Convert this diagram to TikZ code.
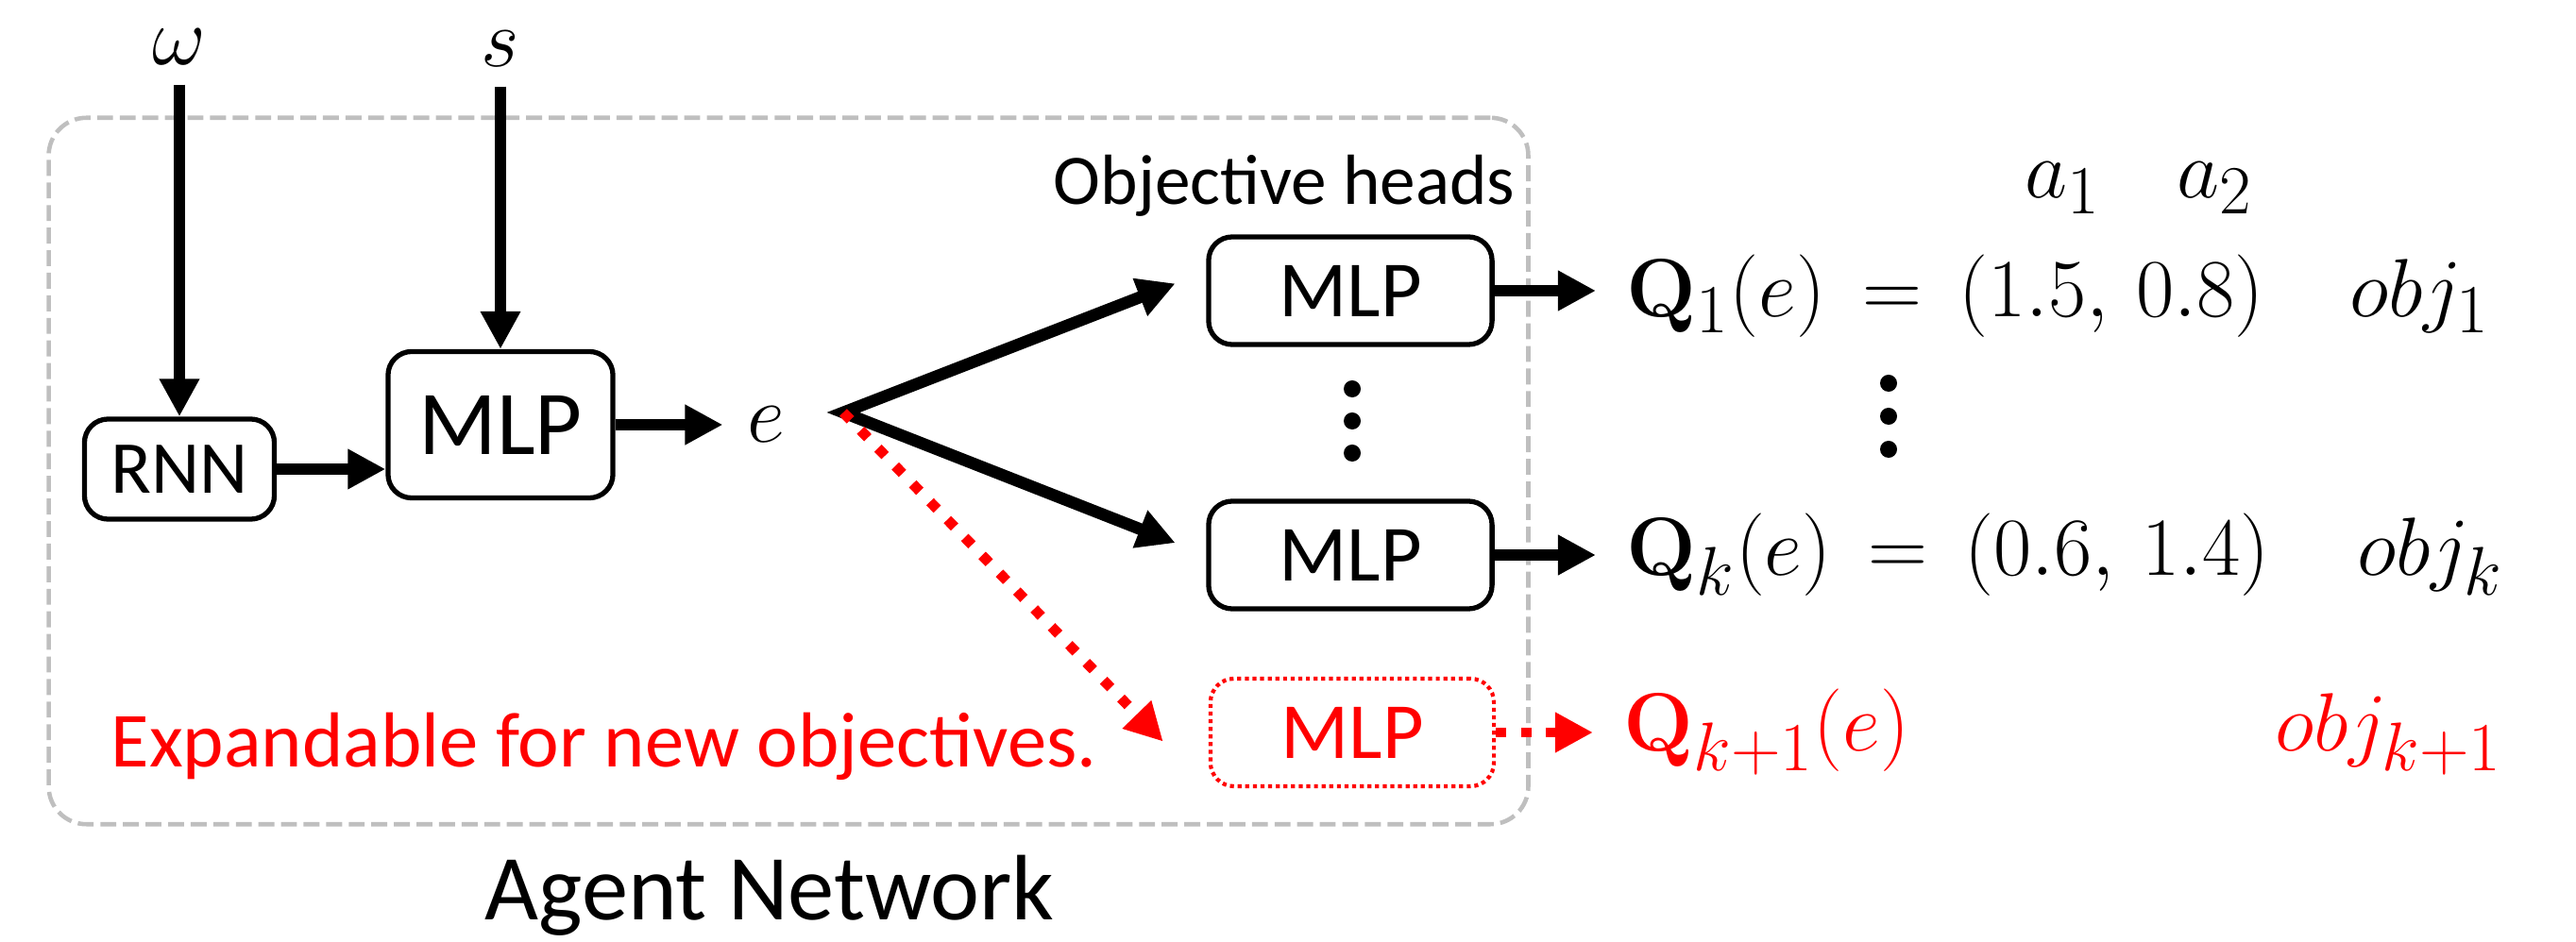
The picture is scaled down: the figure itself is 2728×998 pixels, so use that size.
\documentclass[tikz,border=0pt]{standalone}
\usepackage{amsmath}
\usepackage[no-math]{fontspec}
\setmainfont{Carlito}
\usetikzlibrary{arrows.meta, positioning, calc}

\definecolor{framegray}{RGB}{191,191,191}
\definecolor{newred}{RGB}{255,0,0}

\begin{document}
\begin{tikzpicture}[
        x=0.01cm, y=-0.01cm,
        >={Triangle[length=4mm, width=4mm]},
        every node/.style={inner sep=0pt},
        netbox/.style={draw, rounded corners=0.25cm, line width=1.5pt, align=center},
        rnnbox/.style={netbox, minimum width=2.01cm, minimum height=1.06cm, font=\fontsize{22.5}{24}\selectfont},
        bigbox/.style={netbox, minimum width=2.38cm, minimum height=1.55cm, font=\fontsize{27.5}{30}\selectfont},
        headbox/.style={netbox, minimum width=3cm, minimum height=1.14cm, font=\fontsize{24}{26}\selectfont},
        newbox/.style={headbox, draw=newred, text=newred, line width=1.2pt, dash pattern=on 1.2pt off 1.1pt},
        groupbox/.style={draw=framegray, line width=1.3pt, dash pattern=on 4.8pt off 2pt, rounded corners=0.4cm},
        mathlbl/.style={font=\fontsize{30}{32}\selectfont, inner sep=0.2cm},
        qlbl/.style={font=\fontsize{29}{31}\selectfont, anchor=base west},
        arr/.style={->, line width=3.6pt},
        newarr/.style={->, newred, line width=3.1pt, dash pattern=on 3.1pt off 4.4pt},
    ]
    \useasboundingbox (0,0) rectangle (2728,998);

    %% ===== Agent network frame =====
    \node[groupbox, minimum width=15.66cm, minimum height=7.48cm] (agentnet) at (835,499) {};
    \node[anchor=base, font=\fontsize{28}{30}\selectfont] (agentlbl) at (815,974) {Agent Network};

    %% ===== Inputs and encoder =====
    \node[mathlbl] (omega) at (190,50) {$\omega$};
    \node[mathlbl] (s) at (530,52) {$s$};
    \node[rnnbox] (rnn) at (190,497) {RNN};
    \node[bigbox] (mlp) at (530,450) {MLP};
    \node[mathlbl, inner sep=0.25cm] (e) at (811,450) {$e$};
    \coordinate (fork) at (893,437);

    \draw[arr] (omega) -- (rnn);
    \draw[arr] (s) -- (mlp);
    \draw[arr] (rnn.east) -- (rnn.east -| mlp.west);
    \draw[arr] (mlp) -- (e);

    %% ===== Objective heads =====
    \node[font=\fontsize{21.4}{23}\selectfont] (objheads) at (1360,197) {Objective heads};
    \node[headbox] (head1) at (1430,308) {MLP};
    \node[headbox] (headk) at (1430,588) {MLP};
    \node[newbox] (headnew) at (1432,776) {MLP};
    \foreach \y in {412,446,480}
        \fill (1432,\y) circle (0.09cm);

    \draw[<->, line width=3.6pt, shorten <=0.35cm, shorten >=0.35cm]
        ($(head1.north west)!0.33!(head1.south west)$) -- (fork) -- (headk.west);
    \draw[newarr, shorten >=0.69cm] (fork) -- (headnew.south west);

    \node[anchor=base west, text=newred, font=\fontsize{23.5}{25}\selectfont] (expand) at (117,812) {Expandable for new objectives.};

    %% ===== Q-values per objective =====
    \node[mathlbl, anchor=base, font=\fontsize{29}{30}\selectfont] (a1) at (2185,210) {$a_1$};
    \node[mathlbl, anchor=base, font=\fontsize{29}{30}\selectfont] (a2) at (2346,210) {$a_2$};
    \node[qlbl] (q1) at (1722,336) {$\mathbf{Q}_1(e) \,=\, (1.5,\, 0.8)$};
    \node[qlbl] (obj1) at (2488,336) {$obj_1$};
    \foreach \y in {406,441,476}
        \fill (2000,\y) circle (0.09cm);
    \node[qlbl] (qk) at (1722,610) {$\mathbf{Q}_k(e) \,=\, (0.6,\, 1.4)$};
    \node[qlbl] (objk) at (2496,610) {$obj_k$};
    \node[qlbl, text=newred] (qnew) at (1719,796) {$\mathbf{Q}_{k+1}(e)$};
    \node[qlbl, text=newred] (objnew) at (2409,796) {$obj_{k+1}$};

    \draw[arr, shorten >=0.32cm] (head1.east) -- (head1.east -| q1.west);
    \draw[arr, shorten >=0.32cm] (headk.east) -- (headk.east -| qk.west);
    \draw[newarr, shorten >=0.32cm] (headnew.east) -- (headnew.east -| qnew.west);

\end{tikzpicture}
\end{document}
